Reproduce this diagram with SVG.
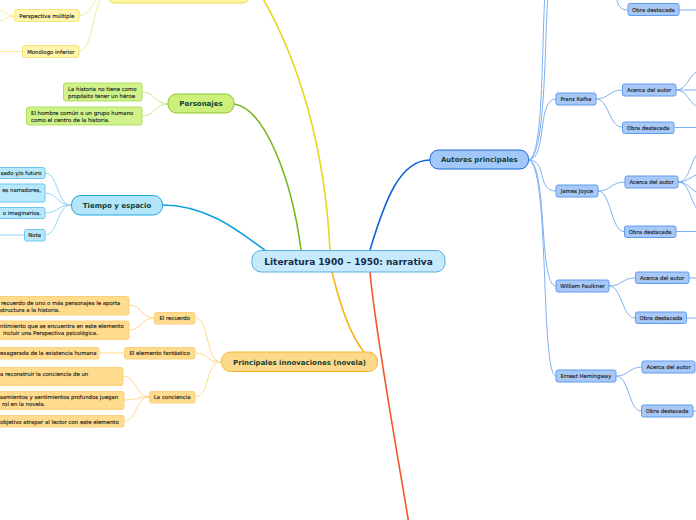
<svg xmlns="http://www.w3.org/2000/svg" width="696" height="520" viewBox="0 0 696 520">
<style>
text{font-family:"DejaVu Sans","Verdana",sans-serif}
.main{font-size:7px;font-weight:bold;fill:#143f33;text-anchor:middle}
.cen{font-size:9px;font-weight:bold;fill:#132c4e;text-anchor:middle}
.sm{font-size:5.4px;fill:#1a1a1a;stroke:#1a1a1a;stroke-width:0.12}
.mid{text-anchor:middle}
.end{text-anchor:end}
.c{fill:none}
.lb{stroke:#7fb0f2;stroke-width:1}
.lc{stroke:#8fd6f5;stroke-width:1}
.lg{stroke:#c6e894;stroke-width:1}
.lo{stroke:#ffd98a;stroke-width:1}
.ly{stroke:#f6ec9e;stroke-width:1}
.nb{fill:#a8c9f8;stroke:#5f9cec;stroke-width:1}
.nc{fill:#b7e8fb;stroke:#6cc8f0;stroke-width:1}
.ng{fill:#d0f28a;stroke:#b2df5e;stroke-width:1}
.no{fill:#ffdb8e;stroke:#fcd07a;stroke-width:1}
.ny{fill:#fff5ae;stroke:#f3e37a;stroke-width:1}
</style>
<g id="connectors" class="c">
<path d="M330,250 C 325,150 300,60 258,-10" stroke="#ead51e" stroke-width="1.6"/>
<path d="M234,104 C 265,108 292,180 301,250" stroke="#7cb51c" stroke-width="1.6"/>
<path d="M162,205 C 205,205 235,228 266,251" stroke="#12a0dc" stroke-width="1.6"/>
<path d="M332,272 C 340,305 350,335 364,352" stroke="#f6b51b" stroke-width="1.6"/>
<path d="M370,250 C 385,200 400,160 430,160" stroke="#1466d8" stroke-width="1.6"/>
<path d="M370,272 C 375,330 395,440 410,530" stroke="#f2552b" stroke-width="1.6"/>
<path class="ly" d="M79,16 C 93,16 93,-7 107,-7"/>
<path class="ly" d="M79,51 C 95,51 93,-7 107,-7"/>
<path class="ly" d="M14,16 C 7,16 6,10 -2,10"/>
<path class="ly" d="M14,16 C 7,16 6,21 -2,21"/>
<path class="ly" d="M22,51.5 L -2,51.5"/>
<path class="lg" d="M168,104 C 155,104 155,92 142,92"/>
<path class="lg" d="M168,104 C 155,104 155,116 142,116"/>
<path class="lc" d="M71,205 C 57,205 58,173 45,173"/>
<path class="lc" d="M71,205 C 57,205 58,193 45,193"/>
<path class="lc" d="M71,205 C 57,205 58,213 45,213"/>
<path class="lc" d="M71,205 C 57,205 58,235 45,235"/>
<path class="lc" d="M24,235 L -2,235"/>
<path class="lo" d="M221,362 C 205,362 210,318 195,318"/>
<path class="lo" d="M221,362 C 205,362 210,353 195,353"/>
<path class="lo" d="M221,362 C 205,362 210,397 195,397"/>
<path class="lo" d="M154,318 C 141,318 142,305 129,305"/>
<path class="lo" d="M154,318 C 141,318 142,330 129,330"/>
<path class="lo" d="M124,353 L 99,353"/>
<path class="lo" d="M149,397 C 136,397 136,376 123,376"/>
<path class="lo" d="M149,397 C 136,397 137,400 124,400"/>
<path class="lo" d="M149,397 C 136,397 137,421 124,421"/>
<path class="lb" d="M528,160 C 547,160 544,30 549,-20"/>
<path class="lb" d="M528,160 C 545,160 541,30 546,-20"/>
<path class="lb" d="M528,160 C 548,160 536,99 556,99"/>
<path class="lb" d="M528,160 C 548,160 536,191 556,191"/>
<path class="lb" d="M528,160 C 548,160 538,286 556,286"/>
<path class="lb" d="M528,160 C 550,160 540,376 556,376"/>
<path class="lb" d="M612,-10 C 620,0 615,10 628,10"/>
<path class="lb" d="M679,10 L 698,10"/>
<path class="lb" d="M596,99 C 609,99 609,90 622,90"/>
<path class="lb" d="M596,99 C 609,99 609,127 622,127"/>
<path class="lb" d="M676,90 C 688,90 688,74 700,70"/>
<path class="lb" d="M676,90 L 698,90"/>
<path class="lb" d="M676,90 C 688,90 688,104 700,108"/>
<path class="lb" d="M674,127.5 L 698,127.5"/>
<path class="lb" d="M598,191 C 611,191 611,182 625,182"/>
<path class="lb" d="M598,191 C 611,191 611,231.5 624,231.5"/>
<path class="lb" d="M678,182 C 690,182 690,160 700,150"/>
<path class="lb" d="M678,182 C 688,182 690,176 700,174"/>
<path class="lb" d="M678,182 C 688,182 690,190 700,194"/>
<path class="lb" d="M678,182 C 690,182 690,204 700,212"/>
<path class="lb" d="M676,231.5 L 698,231.5"/>
<path class="lb" d="M609,286 C 622,286 622,278 635,278"/>
<path class="lb" d="M609,286 C 622,286 622,318 635,318"/>
<path class="lb" d="M689,278 L 698,278"/>
<path class="lb" d="M686,318 L 698,318"/>
<path class="lb" d="M616,376 C 629,376 629,367 642,367"/>
<path class="lb" d="M616,376 C 629,376 629,411 641,411"/>
<path class="lb" d="M693,411 L 698,411"/>
</g>
<g id="central">
<rect x="252" y="250.5" width="193" height="21.5" rx="9" fill="#c6eafb" stroke="#57acdf" stroke-width="1"/>
<text class="cen" x="348.5" y="264.7">Literatura 1900 – 1950: narrativa</text>
</g>
<g id="top-branch">
<rect x="107" y="-17" width="143" height="20" rx="8" fill="#fff5a6" stroke="#eed84a" stroke-width="1"/>
</g>
<g id="perspectiva">
<rect class="ny" x="14.5" y="9.5" width="64.5" height="12" rx="2"/>
<text class="sm mid" x="46.8" y="17.5">Perspectiva múltiple</text>
</g>
<g id="monologo">
<rect class="ny" x="22.5" y="45.5" width="56.5" height="12" rx="2"/>
<text class="sm mid" x="50.8" y="53.5">Monólogo inferior</text>
</g>
<g id="personajes">
<rect x="168" y="94" width="66" height="19" rx="8.5" fill="#cdf07c" stroke="#86c52a" stroke-width="1"/>
<text class="main" x="201" y="106">Personajes</text>
</g>
<g id="pers-heroe">
<rect class="ng" x="63.5" y="83" width="78.5" height="18" rx="2"/>
<text class="sm" x="68" y="91">La historia no tiene como</text>
<text class="sm" x="68" y="98">propósito tener un héroe</text>
</g>
<g id="pers-hombre">
<rect class="ng" x="26.5" y="107" width="115.5" height="18" rx="2"/>
<text class="sm" x="31" y="115">El hombre común o un grupo humano</text>
<text class="sm" x="31" y="121.5">como el centro de la historia.</text>
</g>
<g id="tiempo">
<rect x="71.5" y="195.5" width="91" height="19.5" rx="9" fill="#b3e5fa" stroke="#22a6de" stroke-width="1"/>
<text class="main" x="117" y="207.7">Tiempo y espacio</text>
</g>
<g id="tiempo-1">
<rect class="nc" x="-60" y="167.5" width="105" height="11" rx="2"/>
<text class="sm end" x="41.5" y="175.2">sado y/o futuro</text>
</g>
<g id="tiempo-2">
<rect class="nc" x="-60" y="184" width="105" height="18" rx="2"/>
<text class="sm end" x="41" y="192.3">es narradores,</text>
</g>
<g id="tiempo-3">
<rect class="nc" x="-60" y="207.5" width="105" height="11" rx="2"/>
<text class="sm end" x="41" y="215.3">o imaginarios.</text>
</g>
<g id="nota">
<rect class="nc" x="24.5" y="229.5" width="20.5" height="11.5" rx="2"/>
<text class="sm mid" x="34.7" y="237.2">Nota</text>
</g>
<g id="innovaciones">
<rect x="221.5" y="352" width="156" height="19.5" rx="9" fill="#ffd98a" stroke="#f6b62c" stroke-width="1"/>
<text class="main" x="299.5" y="364.5">Principales innovaciones (novela)</text>
</g>
<g id="recuerdo">
<rect class="no" x="154.5" y="312.5" width="40.5" height="11.5" rx="2"/>
<text class="sm mid" x="174.7" y="320.2">El recuerdo</text>
</g>
<g id="fantastico">
<rect class="no" x="124.5" y="347.5" width="70.5" height="11.5" rx="2"/>
<text class="sm mid" x="159.7" y="355.3">El elemento fantástico</text>
</g>
<g id="conciencia">
<rect class="no" x="149.5" y="391.5" width="45.5" height="11.5" rx="2"/>
<text class="sm mid" x="172.2" y="399.3">La conciencia</text>
</g>
<g id="rec-1">
<rect class="no" x="-80" y="296.5" width="209" height="18.5" rx="2"/>
<text class="sm" x="1" y="305">recuerdo de uno o más personajes le aporta</text>
<text class="sm" x="0" y="311.5">structura a la historia.</text>
</g>
<g id="rec-2">
<rect class="no" x="-80" y="321" width="209" height="18.5" rx="2"/>
<text class="sm" x="0" y="328.2">ntimiento que se encuentra en este elemento</text>
<text class="sm" x="3" y="335.2">incluir una Perspectiva psicológica.</text>
</g>
<g id="fant-1">
<rect class="no" x="-80" y="347.5" width="179" height="11.5" rx="2"/>
<text class="sm" x="0" y="355.3">exagerada de la existencia humana</text>
</g>
<g id="conc-1">
<rect class="no" x="-80" y="367.5" width="203" height="18" rx="2"/>
<text class="sm" x="0" y="376">a reconstruir la conciencia de un</text>
</g>
<g id="conc-2">
<rect class="no" x="-80" y="391.5" width="204" height="18" rx="2"/>
<text class="sm" x="0" y="399.3">samientos y sentimientos profundos juegan</text>
<text class="sm" x="2" y="406">rol en la novela.</text>
</g>
<g id="conc-3">
<rect class="no" x="-80" y="415.5" width="204" height="11.5" rx="2"/>
<text class="sm" x="0" y="423.5">objetivo atrapar al lector con este elemento</text>
</g>
<g id="autores">
<rect x="430" y="150" width="98.5" height="19" rx="8.5" fill="#a2c7f9" stroke="#1b68d6" stroke-width="1"/>
<text class="main" x="479.3" y="162">Autores principales</text>
</g>
<g id="top-obra">
<rect class="nb" x="628" y="3.5" width="51" height="12" rx="2"/>
<text class="sm mid" x="653.5" y="11.6">Obra destacada</text>
</g>
<g id="kafka">
<rect class="nb" x="556" y="93" width="40" height="12" rx="2"/>
<text class="sm mid" x="576" y="101">Franz Kafka</text>
</g>
<g id="kafka-acerca">
<rect class="nb" x="622.5" y="84" width="53.5" height="12" rx="2"/>
<text class="sm mid" x="649.2" y="92">Acerca del autor</text>
</g>
<g id="kafka-obra">
<rect class="nb" x="622.5" y="122" width="51.5" height="11.5" rx="2"/>
<text class="sm mid" x="648.2" y="129.8">Obra destacada</text>
</g>
<g id="joyce">
<rect class="nb" x="556" y="185" width="42" height="12" rx="2"/>
<text class="sm mid" x="577" y="193">James Joyce</text>
</g>
<g id="joyce-acerca">
<rect class="nb" x="625" y="176" width="53" height="12" rx="2"/>
<text class="sm mid" x="651.5" y="184">Acerca del autor</text>
</g>
<g id="joyce-obra">
<rect class="nb" x="624.5" y="226" width="51.5" height="11.5" rx="2"/>
<text class="sm mid" x="650.2" y="233.8">Obra destacada</text>
</g>
<g id="faulkner">
<rect class="nb" x="556" y="280" width="53" height="12" rx="2"/>
<text class="sm mid" x="582.5" y="288">William Faulkner</text>
</g>
<g id="faulkner-acerca">
<rect class="nb" x="635.5" y="272" width="53.5" height="11.5" rx="2"/>
<text class="sm mid" x="662.2" y="279.8">Acerca del autor</text>
</g>
<g id="faulkner-obra">
<rect class="nb" x="635.5" y="312" width="51" height="11.5" rx="2"/>
<text class="sm mid" x="661" y="319.8">Obra destacada</text>
</g>
<g id="hemingway">
<rect class="nb" x="556" y="370" width="60" height="12" rx="2"/>
<text class="sm mid" x="586" y="378">Ernest Hemingway</text>
</g>
<g id="hemingway-acerca">
<rect class="nb" x="642" y="361" width="53" height="12" rx="2"/>
<text class="sm mid" x="668.5" y="369">Acerca del autor</text>
</g>
<g id="hemingway-obra">
<rect class="nb" x="641.5" y="405" width="51.5" height="12" rx="2"/>
<text class="sm mid" x="667.2" y="413">Obra destacada</text>
</g>
</svg>
